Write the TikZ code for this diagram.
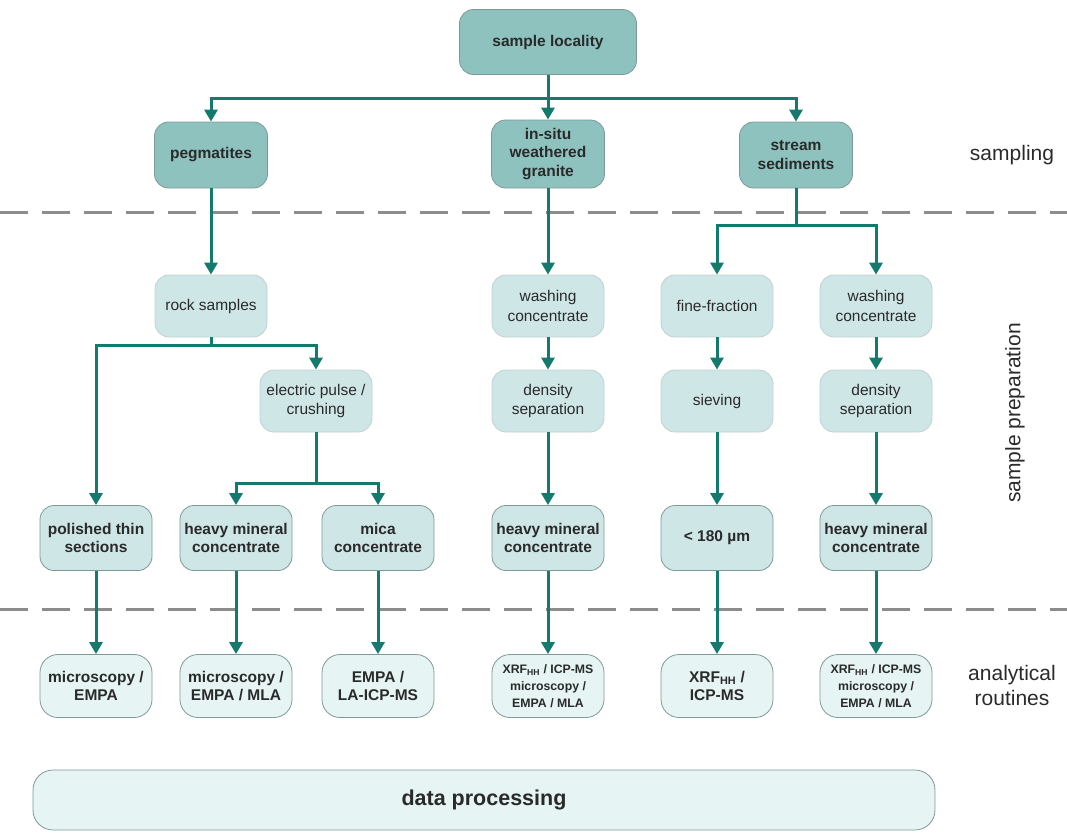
\documentclass[tikz,border=0pt]{standalone}
\usepackage{fontspec}
\setmainfont{Liberation Sans}
\usetikzlibrary{arrows.meta}
\definecolor{darkfill}{HTML}{8DC2BF}
\definecolor{lightfill}{HTML}{CFE6E6}
\definecolor{palefill}{HTML}{E6F4F4}
\definecolor{boxborder}{HTML}{7E9A98}
\definecolor{arrowc}{HTML}{157A6E}
\definecolor{dashc}{HTML}{8C8C8C}
\definecolor{txt}{HTML}{2A2A2A}
\tikzset{
  base/.style={draw=boxborder, line width=0.8pt, rounded corners=14pt, align=center, text=txt, inner sep=1pt},
  darkbox/.style={base, fill=darkfill, minimum width=113pt, minimum height=66pt, font=\bfseries\fontsize{15.5}{18.5}\selectfont},
  lightbox/.style={base, draw=lightfill!80!gray, fill=lightfill, minimum width=112pt, minimum height=62pt, font=\fontsize{15.5}{19.5}\selectfont},
  lightbold/.style={base, fill=lightfill, minimum width=112pt, minimum height=65pt, font=\bfseries\fontsize{15.5}{18.5}\selectfont},
  palebox/.style={base, fill=palefill, rounded corners=18pt, minimum width=112pt, minimum height=63pt, font=\bfseries\fontsize{15.5}{18.5}\selectfont},
  palesmall/.style={palebox, font=\bfseries\fontsize{12.3}{17}\selectfont},
  arr/.style={draw=arrowc, line width=3pt, -{Triangle[width=13pt,length=12pt]}},
  ln/.style={draw=arrowc, line width=3pt},
  sep/.style={draw=dashc, line width=3pt, dash pattern=on 28pt off 14pt},
  side/.style={font=\fontsize{21}{25}\selectfont, text=txt, align=center}
}
\begin{document}
\begin{tikzpicture}[x=1pt,y=-1pt]
\useasboundingbox (0,0) rectangle (1067,836);
% separators
\draw[sep] (0,212) -- (1067,212);
\draw[sep] (0,609) -- (1067,609);
% sampling row
\node[darkbox, minimum width=177pt, minimum height=65pt] (loc) at (548,42) {sample locality};
\node[darkbox] (peg) at (211,155) {pegmatites};
\node[darkbox, minimum height=68pt] (ins) at (548,154) {in-situ\\weathered\\granite};
\node[darkbox] (str) at (796,155) {stream\\sediments};
% preparation
\node[lightbox] (rock) at (211,306) {rock samples};
\node[lightbox] (wash1) at (548,306) {washing\\concentrate};
\node[lightbox] (fine) at (717,306) {fine-fraction};
\node[lightbox] (wash2) at (876,306) {washing\\concentrate};
\node[lightbox] (pulse) at (316,401) {electric pulse /\\crushing};
\node[lightbox] (dens1) at (548,401) {density\\separation};
\node[lightbox] (siev) at (717,401) {sieving};
\node[lightbox] (dens2) at (876,401) {density\\separation};
\node[lightbold] (thin) at (96,538) {polished thin\\sections};
\node[lightbold] (hmc1) at (236,538) {heavy mineral\\concentrate};
\node[lightbold] (mica) at (378,538) {mica\\concentrate};
\node[lightbold] (hmc2) at (548,538) {heavy mineral\\concentrate};
\node[lightbold] (size) at (717,538) {< 180 µm};
\node[lightbold] (hmc3) at (876,538) {heavy mineral\\concentrate};
% analytical
\node[palebox] (a1) at (96,686) {microscopy /\\EMPA};
\node[palebox] (a2) at (236,686) {microscopy /\\EMPA / MLA};
\node[palebox] (a3) at (378,686) {EMPA /\\LA-ICP-MS};
\node[palesmall] (a4) at (548,686) {XRF\textsubscript{HH} / ICP-MS\\microscopy /\\EMPA / MLA};
\node[palebox] (a5) at (717,686) {XRF\textsubscript{HH} /\\ICP-MS};
\node[palesmall] (a6) at (876,686) {XRF\textsubscript{HH} / ICP-MS\\microscopy /\\EMPA / MLA};
\node[base, fill=palefill, rounded corners=20pt, minimum width=902pt, minimum height=60pt, font=\bfseries\fontsize{21.5}{25}\selectfont] (data) at (484,800) {data processing};
% side labels
\node[side] (lsamp) at (1012,155) {sampling};
\node[side, rotate=90] (lprep) at (1015,413) {sample preparation};
\node[side] (lana) at (1012,685) {analytical\\routines};
% connectors
\coordinate (j1) at (548,98);
\draw[ln] (loc.south) -- (j1);
\draw[arr] (j1) -- (ins.north);
\draw[arr] (j1) -| (peg.north);
\draw[arr] (j1) -| (str.north);
\draw[arr] (peg.south) -- (rock.north);
\draw[arr] (ins.south) -- (wash1.north);
\coordinate (j2) at (796,225);
\draw[ln] (str.south) -- (j2);
\draw[arr] (j2) -| (fine.north);
\draw[arr] (j2) -| (wash2.north);
\coordinate (j3) at (211,345);
\draw[ln] (rock.south) -- (j3);
\draw[arr] (j3) -| (thin.north);
\draw[arr] (j3) -| (pulse.north);
\coordinate (j4) at (316,483);
\draw[ln] (pulse.south) -- (j4);
\draw[arr] (j4) -| (hmc1.north);
\draw[arr] (j4) -| (mica.north);
\draw[arr] (wash1.south) -- (dens1.north);
\draw[arr] (fine.south) -- (siev.north);
\draw[arr] (wash2.south) -- (dens2.north);
\draw[arr] (dens1.south) -- (hmc2.north);
\draw[arr] (siev.south) -- (size.north);
\draw[arr] (dens2.south) -- (hmc3.north);
\draw[arr] (thin.south) -- (a1.north);
\draw[arr] (hmc1.south) -- (a2.north);
\draw[arr] (mica.south) -- (a3.north);
\draw[arr] (hmc2.south) -- (a4.north);
\draw[arr] (size.south) -- (a5.north);
\draw[arr] (hmc3.south) -- (a6.north);
\end{tikzpicture}
\end{document}
